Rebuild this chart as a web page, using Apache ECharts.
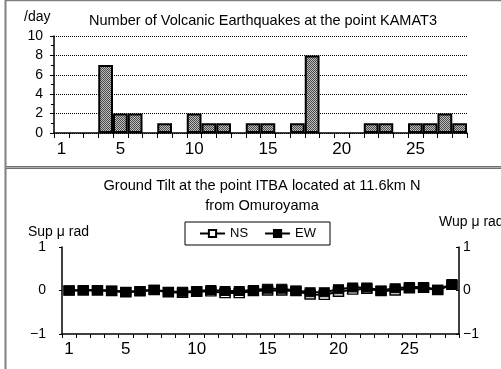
<!DOCTYPE html>
<html><head><meta charset="utf-8">
<script src="https://cdn.jsdelivr.net/npm/echarts@6/dist/echarts.min.js"></script>
<style>html,body{margin:0;padding:0;background:#fff}#c{width:501px;height:369px}</style>
</head><body><div id="c"></div>
<script>
var days = ['1','2','3','4','5','6','7','8','9','10','11','12','13','14','15','16','17','18','19','20','21','22','23','24','25','26','27','28'];
var xTickLabels = ['1','5','10','15','20','25'];
var quakes = [0,0,0,7,2,2,0,1,0,2,1,1,0,1,1,0,1,8,0,0,0,1,1,0,1,1,2,1];
var nsTilt = [0.00,0.00,0.00,-0.01,-0.04,-0.02,0.01,-0.04,-0.05,-0.03,-0.02,-0.06,-0.06,-0.01,0.00,0.00,-0.01,-0.09,-0.10,-0.03,0.02,0.04,-0.01,0.00,0.05,0.06,0.01,0.13];
var ewTilt = [0.00,0.01,0.01,0.00,-0.03,-0.01,0.02,-0.03,-0.03,-0.01,0.01,-0.01,-0.01,0.01,0.04,0.04,0.00,-0.04,-0.04,0.03,0.07,0.07,0.00,0.05,0.08,0.08,0.02,0.15];
var topTitle = 'Number of Volcanic Earthquakes at the point KAMAT3';
var bottomTitle1 = 'Ground Tilt at the point ITBA located at 11.6km N';
var bottomTitle2 = 'from Omuroyama';

var FONT = '"Liberation Sans", Arial, sans-serif';
var NARROW = '"Liberation Sans Narrow", "Liberation Sans", sans-serif';

// bar dotted pattern
var pc = document.createElement('canvas');
pc.width = 2; pc.height = 2;
var px = pc.getContext('2d');
px.fillStyle = '#bdbdbd'; px.fillRect(0,0,2,2);
px.fillStyle = '#4a4a4a'; px.fillRect(0,0,1,1); px.fillRect(1,1,1,1);

function minusFmt(v){ return v < 0 ? '\u2212' + Math.abs(v) : String(v); }
function showLabel(i, v){ return xTickLabels.indexOf(v) >= 0; }

var chart = echarts.init(document.getElementById('c'), null, {renderer:'canvas'});
chart.setOption({
  animation: false,
  textStyle: {fontFamily: FONT, color:'#000'},
  legend: {
    left: 185, top: 222, padding: [5, 14, 5, 14], itemGap: 16,
    itemWidth: 25, itemHeight: 9,
    borderColor: '#000', borderWidth: 1, backgroundColor: '#fff',
    textStyle: {fontSize: 13, color: '#000', fontFamily: FONT},
    data: ['NS', 'EW']
  },
  grid: [
    {left: 54, right: 34, top: 36, height: 97},
    {left: 62, right: 42, top: 247, height: 87}
  ],
  xAxis: [
    {type:'category', gridIndex:0, data: days, boundaryGap: true,
     axisLine:{lineStyle:{color:'#000', width:1.5}},
     axisTick:{show:true, interval:0, length:5, lineStyle:{color:'#000'}},
     axisLabel:{interval: showLabel, margin: 8, fontSize: 17, color:'#000', fontFamily: NARROW}},
    {type:'category', gridIndex:1, data: days, boundaryGap: true,
     axisLine:{onZero:false, lineStyle:{color:'#000', width:1.5}},
     axisTick:{show:true, interval:0, length:4, lineStyle:{color:'#000'}},
     axisLabel:{interval: showLabel, margin: 7, fontSize: 17, color:'#000', fontFamily: NARROW}}
  ],
  yAxis: [
    {type:'value', gridIndex:0, min:0, max:10, interval:2,
     axisLine:{show:true, lineStyle:{color:'#000', width:1.5}},
     axisTick:{show:true, length:4, lineStyle:{color:'#000'}},
     minorTick:{show:true, splitNumber:2, length:3, lineStyle:{color:'#000'}},
     splitLine:{show:true, lineStyle:{color:'#000', type:[1,1], width:1}},
     axisLabel:{margin: 11, fontSize: 14, color:'#000'}},
    {type:'value', gridIndex:1, min:-1, max:1, interval:1, position:'left',
     axisLine:{show:true, lineStyle:{color:'#000', width:1.5}},
     axisTick:{show:true, length:3, lineStyle:{color:'#000'}},
     splitLine:{show:false},
     axisLabel:{margin: 16, fontSize: 14, color:'#000', formatter: minusFmt}},
    {type:'value', gridIndex:1, min:-1, max:1, interval:1, position:'right',
     axisLine:{show:true, lineStyle:{color:'#000', width:1.5}},
     axisTick:{show:true, inside:true, length:3, lineStyle:{color:'#000'}},
     splitLine:{show:false},
     axisLabel:{margin: 4, fontSize: 14, color:'#000', formatter: minusFmt}}
  ],
  series: [
    {type:'bar', xAxisIndex:0, yAxisIndex:0, barWidth:'100%', barCategoryGap:'0%',
     data: quakes.map(function(v){ return v === 0 ? null : v; }),
     itemStyle:{color:{image: pc, repeat:'repeat'}, borderColor:'#000', borderWidth:2}},
    {name:'NS', type:'line', xAxisIndex:1, yAxisIndex:1, data: nsTilt,
     symbol:'rect', symbolSize:[10,9], showAllSymbol:true,
     lineStyle:{color:'#000', width:2},
     itemStyle:{color:'#fff', borderColor:'#000', borderWidth:1.5}},
    {name:'EW', type:'line', xAxisIndex:1, yAxisIndex:1, data: ewTilt,
     symbol:'rect', symbolSize:[10,9], showAllSymbol:true,
     lineStyle:{color:'#000', width:2},
     itemStyle:{color:'#000', borderColor:'#000', borderWidth:1}}
  ],
  graphic: [
    {type:'line', shape:{x1:5.5,y1:0,x2:5.5,y2:369}, style:{stroke:'#808080', lineWidth:2}},
    {type:'line', shape:{x1:6,y1:0.5,x2:501,y2:0.5}, style:{stroke:'#808080', lineWidth:1.5}},
    {type:'line', shape:{x1:6,y1:166.5,x2:501,y2:166.5}, style:{stroke:'#707070', lineWidth:1}},
    {type:'line', shape:{x1:6,y1:167.5,x2:501,y2:167.5}, style:{stroke:'#b0b0b0', lineWidth:1}},
    {type:'line', shape:{x1:6,y1:168.5,x2:501,y2:168.5}, style:{stroke:'#707070', lineWidth:1}},
    {type:'text', x:263, y:21, style:{text: topTitle, font:'14.5px ' + FONT, fill:'#000', align:'center', verticalAlign:'middle'}},
    {type:'text', x:24, y:17, style:{text:'/day', font:'14px ' + FONT, fill:'#000', align:'left', verticalAlign:'middle'}},
    {type:'text', x:262, y:186, style:{text: bottomTitle1, font:'14.6px ' + FONT, fill:'#000', align:'center', verticalAlign:'middle'}},
    {type:'text', x:262, y:206, style:{text: bottomTitle2, font:'14.6px ' + FONT, fill:'#000', align:'center', verticalAlign:'middle'}},
    {type:'text', x:28, y:232, style:{text:'Sup \u03bc rad', font:'14px ' + FONT, fill:'#000', align:'left', verticalAlign:'middle'}},
    {type:'text', x:439, y:222, style:{text:'Wup \u03bc rad', font:'14px ' + FONT, fill:'#000', align:'left', verticalAlign:'middle'}}
  ]
});
</script>
</body></html>
